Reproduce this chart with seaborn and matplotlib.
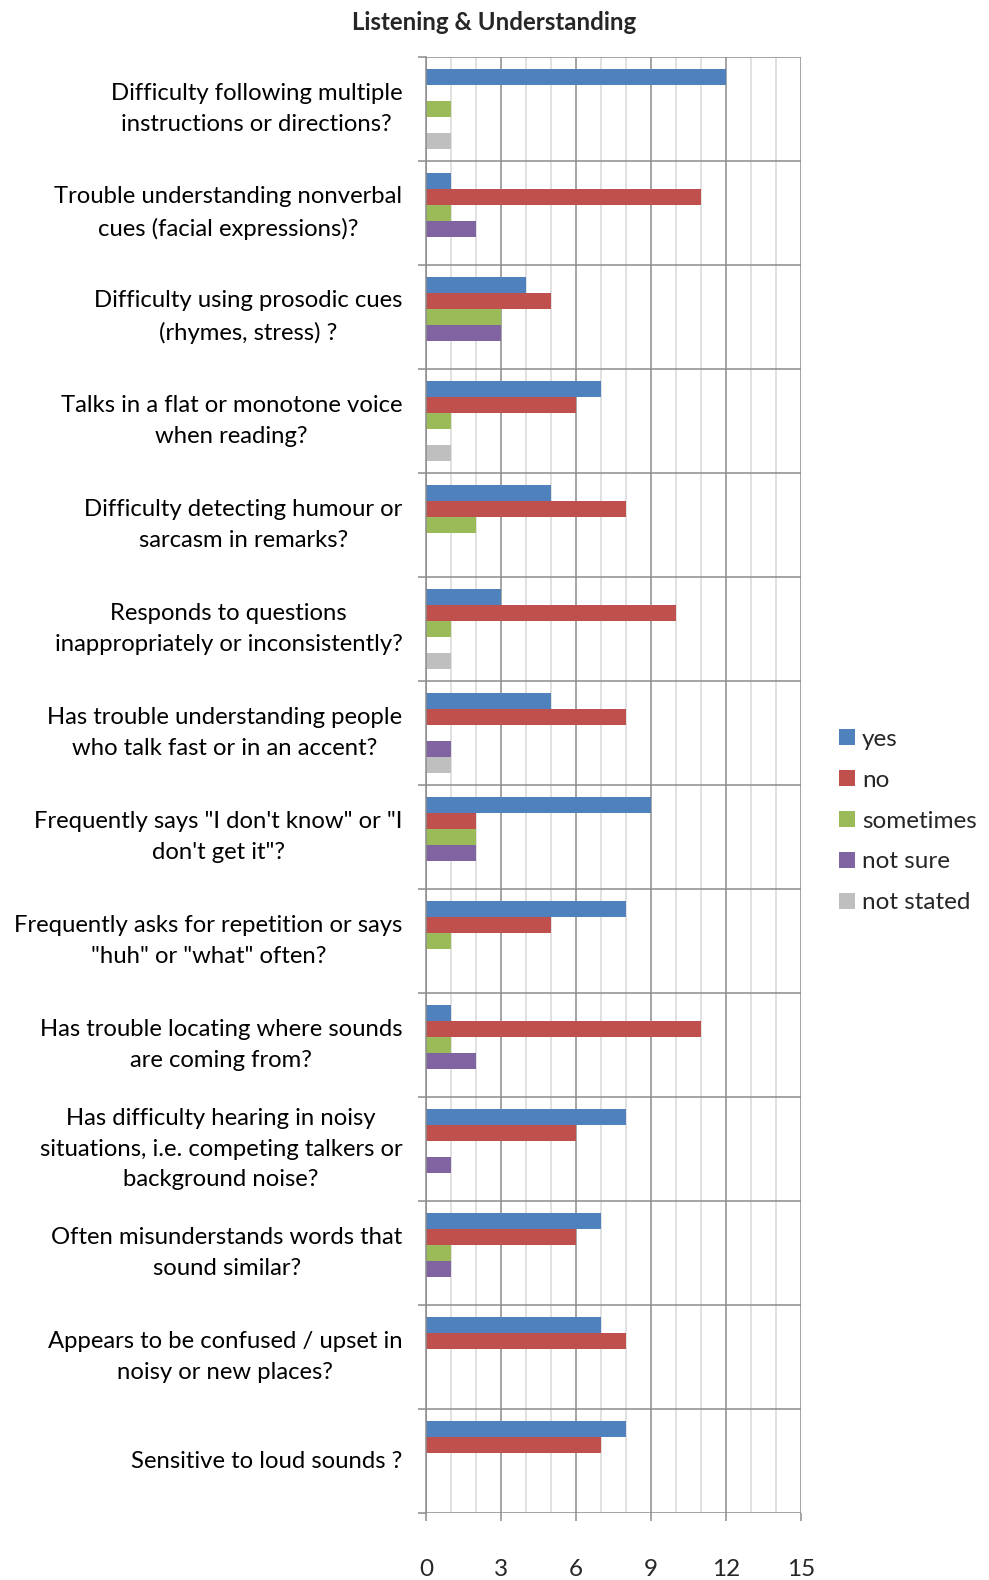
import matplotlib
matplotlib.use("Agg")
import matplotlib.pyplot as plt
import seaborn as sns
import pandas as pd
from matplotlib.ticker import MultipleLocator, FixedLocator

questions = [
    "Difficulty following multiple\ninstructions or directions?",
    "Trouble understanding nonverbal\ncues (facial expressions)?",
    "Difficulty using prosodic cues\n(rhymes, stress) ?",
    "Talks in a flat or monotone voice\nwhen reading?",
    "Difficulty detecting humour or\nsarcasm in remarks?",
    "Responds to questions\ninappropriately or inconsistently?",
    "Has trouble understanding people\nwho talk fast or in an accent?",
    "Frequently says \"I don't know\" or \"I\ndon't get it\"?",
    "Frequently asks for repetition or says\n\"huh\" or \"what\" often?",
    "Has trouble locating where sounds\nare coming from?",
    "Has difficulty hearing in noisy\nsituations, i.e. competing talkers or\nbackground noise?",
    "Often misunderstands words that\nsound similar?",
    "Appears to be confused / upset in\nnoisy or new places?",
    "Sensitive to loud sounds ?",
]
responses = ["yes", "no", "sometimes", "not sure", "not stated"]

yes        = [12, 1, 4, 7, 5, 3, 5, 9, 8, 1, 8, 7, 7, 8]
no         = [0, 11, 5, 6, 8, 10, 8, 2, 5, 11, 6, 6, 8, 7]
sometimes  = [1, 1, 3, 1, 2, 1, 0, 2, 1, 1, 0, 1, 0, 0]
not_sure   = [0, 2, 3, 0, 0, 0, 1, 2, 0, 2, 1, 1, 0, 0]
not_stated = [1, 0, 0, 1, 0, 1, 1, 0, 0, 0, 0, 0, 0, 0]

colors = ["#4F81BD", "#C0504D", "#9BBB59", "#8064A2", "#BFBFBF"]

series = [yes, no, sometimes, not_sure, not_stated]
rows = []
for resp, vals in zip(responses, series):
    for q, v in zip(questions, vals):
        rows.append({"question": q, "response": resp, "count": v})
df = pd.DataFrame(rows)

sns.set_style("white")
plt.rcParams["font.family"] = ["Lato", "DejaVu Sans"]

fig = plt.figure(figsize=(9.89, 15.80), dpi=100)
ax = fig.add_axes([426 / 989, 1 - 1513 / 1580, 375 / 989, 1456 / 1580])

sns.barplot(data=df, y="question", x="count", hue="response",
            order=questions, hue_order=responses, palette=colors,
            orient="h", width=0.77, saturation=1, errorbar=None,
            linewidth=0, ax=ax)

ax.set_xlim(0, 15)
ax.set_ylim(len(questions) - 0.5, -0.5)

# vertical grid: light lines every unit, darker every 3
ax.xaxis.set_major_locator(MultipleLocator(3))
ax.xaxis.set_minor_locator(MultipleLocator(1))
ax.grid(axis="x", which="minor", color="#D9D9D9", linewidth=1.1)
ax.grid(axis="x", which="major", color="#8C8C8C", linewidth=1.1)

# horizontal separators between question groups
ax.yaxis.set_minor_locator(FixedLocator([i - 0.5 for i in range(len(questions) + 1)]))
ax.grid(axis="y", which="minor", color="#8C8C8C", linewidth=1.1)
ax.grid(axis="y", which="major", visible=False)
ax.set_axisbelow(True)

ax.tick_params(axis="y", which="major", length=0, pad=17, labelsize=17.2,
               colors="black")
ax.tick_params(axis="y", which="minor", length=6, width=1.1, color="#8C8C8C",
               left=True)
ax.tick_params(axis="x", which="major", length=6, width=1.1, color="#8C8C8C",
               pad=27, labelsize=17.5, bottom=True)
ax.tick_params(axis="x", which="minor", length=0)
for lbl in ax.get_yticklabels():
    lbl.set_multialignment("center")
    lbl.set_linespacing(1.58)
    lbl.set_verticalalignment("center")

for side in ["top", "right", "bottom"]:
    ax.spines[side].set_visible(False)
ax.spines["left"].set_color("#8C8C8C")
ax.spines["left"].set_linewidth(1.1)

ax.set_xlabel("")
ax.set_ylabel("")

handles, labels = ax.get_legend_handles_labels()
ax.get_legend().remove()
fig.legend(handles, labels, loc="center left",
           bbox_to_anchor=(839 / 989, 1 - 821 / 1580), frameon=False,
           borderpad=0, borderaxespad=0,
           fontsize=17.5, handlelength=0.65, handleheight=0.65,
           handletextpad=0.3, labelspacing=0.82)

fig.text(494 / 989, 1 - 22 / 1580, "Listening & Understanding",
         ha="center", va="center", fontsize=17.3, fontweight="bold")

fig.savefig("out.png", dpi=100)
